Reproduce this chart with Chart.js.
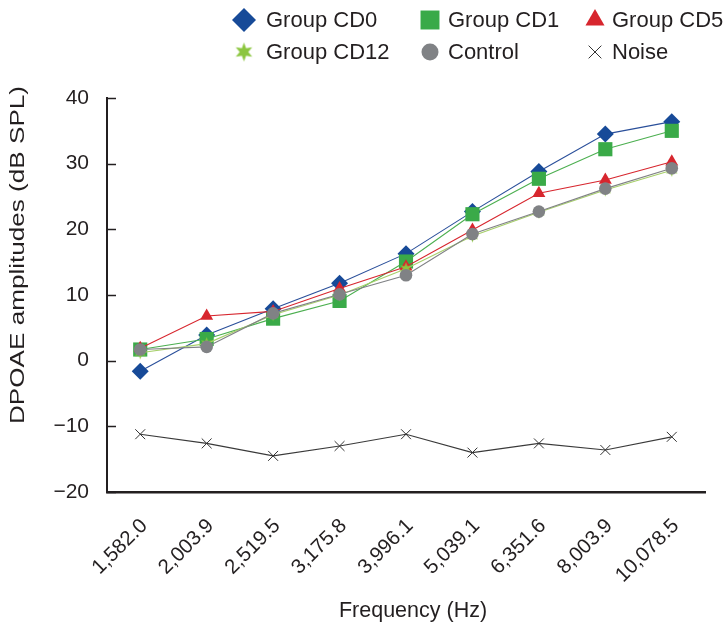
<!DOCTYPE html>
<html>
<head>
<meta charset="utf-8">
<script src="https://cdn.jsdelivr.net/npm/chart.js@4.4.1/dist/chart.umd.min.js"></script>
<style>
  html, body { margin: 0; padding: 0; background: #ffffff; }
  #wrap { width: 728px; height: 632px; }
</style>
</head>
<body>
<div id="wrap"><canvas id="c" width="728" height="632"></canvas></div>
<script>
// ---- data ----
const categories = ['1,582.0', '2,003.9', '2,519.5', '3,175.8', '3,996.1', '5,039.1', '6,351.6', '8,003.9', '10,078.5'];
const groupCD0  = [-1.6, 3.9, 7.9, 11.8, 16.3, 22.7, 28.8, 34.5, 36.4];
const groupCD1  = [1.7, 3.3, 6.4, 9.1, 15.1, 22.3, 27.7, 32.2, 35.0];
const groupCD5  = [1.9, 6.8, 7.5, 11.0, 14.3, 19.9, 25.5, 27.5, 30.3];
const groupCD12 = [1.2, 2.6, 7.0, 10.0, 14.0, 19.0, 22.6, 26.0, 29.0];
const control   = [1.7, 2.1, 7.2, 10.1, 13.0, 19.3, 22.7, 26.2, 29.3];
const noise     = [-11.2, -12.6, -14.5, -13.0, -11.2, -14.0, -12.6, -13.6, -11.6];
const yMin = -20, yMax = 40, yStep = 10;
const seriesNames = ['Group CD0', 'Group CD1', 'Group CD5', 'Group CD12', 'Control', 'Noise'];
const xTitleText = 'Frequency (Hz)';
const yTitleText = 'DPOAE amplitudes (dB SPL)';

const FONT = '"Liberation Sans", Arial, Helvetica, sans-serif';
const TEXT = '#231f20';

function makeStar(R, color) {
  const s = Math.ceil(2 * R + 2);
  const cv = document.createElement('canvas');
  cv.width = s; cv.height = s;
  const g = cv.getContext('2d');
  g.fillStyle = color;
  g.beginPath();
  const n = 6, inner = R * 0.45;
  for (let i = 0; i < 2 * n; i++) {
    const r = i % 2 === 0 ? R : inner;
    const a = -Math.PI / 2 + i * Math.PI / n;
    const px = s / 2 + r * Math.cos(a), py = s / 2 + r * Math.sin(a);
    if (i === 0) g.moveTo(px, py); else g.lineTo(px, py);
  }
  g.closePath();
  g.fill();
  return cv;
}
const starSmall = makeStar(6.5, '#8cc63f');
const starBig = makeStar(9.5, '#8cc63f');

const styles = [
  { color: '#174a98', line: '#2a4f9a', point: 'rectRot', r: 8.5, lr: 12, order: 5 },
  { color: '#3aaa48', line: '#4caf50', point: 'rect', r: 10, lr: 13.4, order: 4 },
  { color: '#d7262e', line: '#d7262e', point: 'triangle', r: 7.5, lr: 11, order: 3 },
  { color: '#8cc63f', line: '#a6cf6a', point: starSmall, big: starBig, r: 6, lr: 9, order: 2 },
  { color: '#808285', line: '#808285', point: 'circle', r: 6.3, lr: 8.5, order: 1 },
  { color: '#333333', line: '#3a3a3a', point: 'crossRot', r: 7, lr: 9, order: 0 }
];
const seriesData = [groupCD0, groupCD1, groupCD5, groupCD12, control, noise];

const datasets = seriesData.map((d, i) => {
  const st = styles[i];
  const isCross = st.point === 'crossRot';
  return {
    label: seriesNames[i],
    data: d,
    borderColor: st.line,
    borderWidth: 1.1,
    backgroundColor: st.color,
    pointStyle: st.point,
    pointRadius: st.r,
    pointHoverRadius: st.r,
    pointBackgroundColor: st.color,
    pointBorderColor: isCross ? '#333333' : st.color,
    pointBorderWidth: isCross ? 1 : 0,
    tension: 0,
    order: st.order,
    clip: false
  };
});

const customLegend = {
  id: 'customLegend',
  afterDraw(chart) {
    const ctx = chart.ctx;
    const colX = [244, 430, 595];
    const rowY = [20, 52];
    const textOff = [22, 18, 17];
    ctx.save();
    ctx.font = '22px ' + FONT;
    ctx.textBaseline = 'middle';
    ctx.textAlign = 'left';
    seriesNames.forEach((name, i) => {
      const col = i % 3, row = Math.floor(i / 3);
      const x = colX[col], y = rowY[row];
      const st = styles[i];
      ctx.fillStyle = st.color;
      ctx.strokeStyle = st.color;
      ctx.lineWidth = 1;
      const ps = st.big ? st.big : st.point;
      Chart.helpers.drawPoint(ctx, { pointStyle: ps, radius: st.lr, rotation: 0, borderWidth: st.point === 'crossRot' ? 1 : 0 }, x, y);
      ctx.fillStyle = TEXT;
      ctx.fillText(name, x + textOff[col], y + 1);
    });
    ctx.restore();
  }
};

const innerTicks = {
  id: 'innerTicks',
  beforeDatasetsDraw(chart) {
    const ctx = chart.ctx;
    const ys = chart.scales.y;
    const left = chart.chartArea.left;
    ctx.save();
    ctx.strokeStyle = TEXT;
    ctx.lineWidth = 1.5;
    ys.ticks.forEach(t => {
      const py = Math.round(ys.getPixelForValue(t.value)) + 0.5;
      ctx.beginPath();
      ctx.moveTo(left, py);
      ctx.lineTo(left + 9, py);
      ctx.stroke();
    });
    ctx.restore();
  }
};

const axisTitles = {
  id: 'axisTitles',
  afterDraw(chart) {
    const ctx = chart.ctx;
    ctx.save();
    ctx.font = '21px ' + FONT;
    ctx.fillStyle = TEXT;
    ctx.textAlign = 'center';
    ctx.textBaseline = 'middle';
    // y title
    const w = ctx.measureText(yTitleText).width;
    ctx.save();
    ctx.translate(18, 255);
    ctx.rotate(-Math.PI / 2);
    ctx.scale(338 / w, 1);
    ctx.fillText(yTitleText, 0, 0);
    ctx.restore();
    // x title
    ctx.font = '21.5px ' + FONT;
    ctx.fillText(xTitleText, 413, 611);
    ctx.restore();
  }
};

new Chart(document.getElementById('c'), {
  type: 'line',
  data: { labels: categories, datasets: datasets },
  options: {
    responsive: false,
    animation: false,
    events: [],
    layout: { padding: { top: 98, right: 23, left: 0, bottom: 0 } },
    plugins: { legend: { display: false }, tooltip: { enabled: false }, title: { display: false } },
    scales: {
      x: {
        type: 'category',
        offset: true,
        grid: { display: false, drawTicks: false },
        border: { display: true, color: TEXT, width: 2.5 },
        ticks: {
          color: TEXT,
          font: { family: FONT, size: 20.5 },
          minRotation: 45,
          maxRotation: 45,
          padding: 22,
          labelOffset: 4,
          autoSkip: false
        },
        title: { display: false },
        afterFit(s) { s.height = 140; }
      },
      y: {
        min: yMin, max: yMax,
        grid: { display: false, drawTicks: false },
        border: { display: true, color: TEXT, width: 2 },
        ticks: {
          stepSize: yStep,
          color: TEXT,
          font: { family: FONT, size: 21 },
          padding: 18,
          callback: v => String(v).replace('-', '\u2212')
        },
        afterFit(s) { s.width = 107; }
      }
    }
  },
  plugins: [innerTicks, customLegend, axisTitles]
});
</script>
</body>
</html>
